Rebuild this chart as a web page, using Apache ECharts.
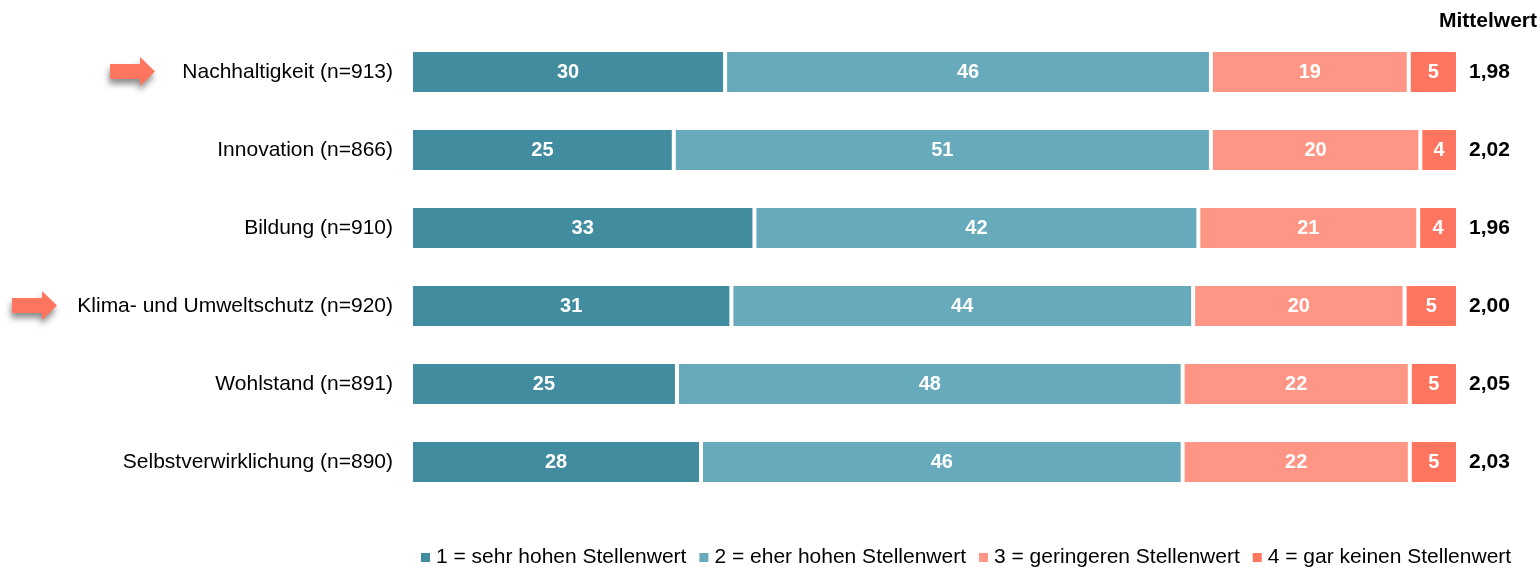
<!DOCTYPE html>
<html>
<head>
<meta charset="utf-8">
<script src="https://cdn.jsdelivr.net/npm/echarts@6/dist/echarts.min.js"></script>
<style>
html,body{margin:0;padding:0;background:#fff;}
#chart{width:1540px;height:569px;}
</style>
</head>
<body>
<div id="chart"></div>
<script>
const categories = ['Nachhaltigkeit (n=913)', 'Innovation (n=866)', 'Bildung (n=910)', 'Klima- und Umweltschutz (n=920)', 'Wohlstand (n=891)', 'Selbstverwirklichung (n=890)'];
const seriesNames = ['1 = sehr hohen Stellenwert', '2 = eher hohen Stellenwert', '3 = geringeren Stellenwert', '4 = gar keinen Stellenwert'];
const s1 = [30.0, 25.1, 32.8, 30.6, 25.4, 27.7];
const s2 = [46.4, 51.3, 42.4, 44.1, 48.3, 46.0];
const s3 = [18.9, 20.0, 21.0, 20.2, 21.7, 21.7];
const s4 = [4.7, 3.6, 3.8, 5.1, 4.6, 4.6];
const means = ['1,98', '2,02', '1,96', '2,00', '2,05', '2,03'];
const arrowRows = ['Nachhaltigkeit (n=913)', 'Klima- und Umweltschutz (n=920)'];
const colors = ['#418C9E', '#66AABB', '#FF9685', '#FF7560'];
const FONT = 'Arial, "Liberation Sans", sans-serif';

const chart = echarts.init(document.getElementById('chart'));
const allSeries = [s1, s2, s3, s4].map((d, i) => ({
  name: seriesNames[i],
  type: 'bar',
  stack: 'total',
  barWidth: 44,
  data: d,
  itemStyle: { color: colors[i], borderColor: '#fff', borderWidth: 2 },
  label: {
    show: true, position: 'inside', color: '#fff', fontWeight: 'bold',
    fontSize: 20, fontFamily: FONT,
    formatter: p => Math.round(p.value)
  },
  emphasis: { disabled: true }
}));

chart.setOption({
  animation: false,
  color: colors,
  title: {
    text: 'Mittelwert', right: 3, top: 11, padding: 0,
    textStyle: { fontSize: 21, fontWeight: 'bold', color: '#000', fontFamily: FONT }
  },
  legend: {
    data: seriesNames,
    left: 416, top: 542,
    itemWidth: 9, itemHeight: 9, itemGap: 13,
    icon: 'rect',
    itemStyle: { borderWidth: 0 },
    textStyle: { fontSize: 21, color: '#000', fontFamily: FONT, padding: [0, 0, 0, 1] }
  },
  grid: { left: 411, right: 82, top: 33, height: 468, containLabel: false },
  xAxis: { type: 'value', min: 0, max: 100, show: false },
  yAxis: [
    {
      type: 'category', data: categories, inverse: true,
      axisLine: { show: false }, axisTick: { show: false },
      axisLabel: { margin: 18, fontSize: 21, color: '#000', fontFamily: FONT }
    },
    {
      type: 'category', data: means, inverse: true, position: 'right',
      axisLine: { show: false }, axisTick: { show: false },
      axisLabel: { margin: 11, fontSize: 21, fontWeight: 'bold', color: '#000', fontFamily: FONT, align: 'left' }
    }
  ],
  series: allSeries
});

const arrowTipX = { 'Nachhaltigkeit (n=913)': 155, 'Klima- und Umweltschutz (n=920)': 57 };
const graphics = arrowRows.map(name => {
  const cy = chart.convertToPixel({ yAxisIndex: 0 }, name) - 0.5;
  const tx = arrowTipX[name];
  return {
    type: 'polygon',
    shape: { points: [[tx - 45, cy - 7.5], [tx - 15, cy - 7.5], [tx - 15, cy - 14.5], [tx, cy], [tx - 15, cy + 14.5], [tx - 15, cy + 7.5], [tx - 45, cy + 7.5]] },
    style: { fill: '#FF7560', shadowColor: 'rgba(0,0,0,0.45)', shadowBlur: 6, shadowOffsetX: -1, shadowOffsetY: 5 }
  };
});
chart.setOption({ graphic: graphics });
</script>
</body>
</html>
